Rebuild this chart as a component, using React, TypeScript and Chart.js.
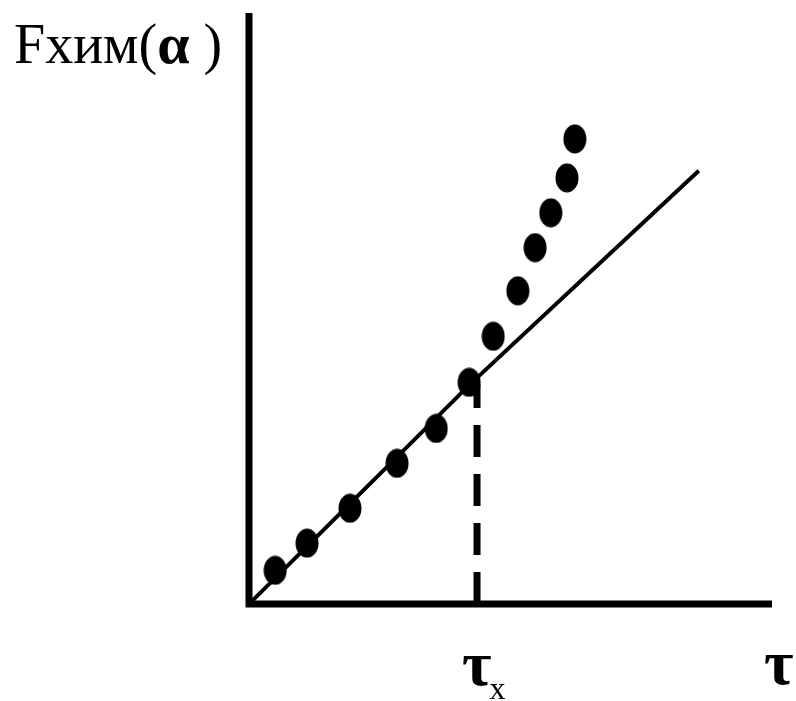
import { useEffect, useRef } from "react";
import { Chart, registerables } from "chart.js";

Chart.register(...registerables);

// Measured points: reaction time τ and kinetic function Fхим(α)
const tauValues = [0.5, 1.11, 1.93, 2.83, 3.58, 4.21, 4.67, 5.14, 5.47, 5.77, 6.08, 6.23];
const fValues = [0.57, 1.03, 1.62, 2.38, 2.97, 3.75, 4.53, 5.3, 6.03, 6.62, 7.21, 7.87];

// Linear fit drawn through the origin
const fitTau = [0, 4.23, 8.6];
const fitF = [0, 3.72, 7.33];

// Break time τx, marked by the dashed drop line
const tauX = 4.36;
const fAtTauX = 3.72;

// Axis ranges
const tauRange = [0, 10];
const fRange = [0, 10];

// Axis captions
const yCaption = ["Fхим(", "α", ")"];
const breakCaption = ["τ", "x"];
const xCaption = "τ";

const SERIF = '"Liberation Serif", "Times New Roman", "DejaVu Serif", serif';

function makeDot(): HTMLCanvasElement {
  const c = document.createElement("canvas");
  c.width = 24;
  c.height = 30;
  const g = c.getContext("2d")!;
  g.fillStyle = "#000";
  g.beginPath();
  g.ellipse(12, 15, 11.5, 14.5, 0, 0, Math.PI * 2);
  g.fill();
  return c;
}

const axesPlugin = {
  id: "axesAndCaptions",
  beforeDatasetsDraw(chart: any) {
    const { ctx, scales } = chart;
    const x = scales.x;
    const y = scales.y;
    const x0 = x.getPixelForValue(0);
    const y0 = y.getPixelForValue(0);
    ctx.save();
    ctx.strokeStyle = "#000";
    ctx.lineWidth = 7;
    ctx.lineCap = "butt";
    ctx.beginPath();
    ctx.moveTo(x0, y.getPixelForValue(fRange[1]));
    ctx.lineTo(x0, y0 + 3.5);
    ctx.moveTo(x0 - 3.5, y0);
    ctx.lineTo(x.getPixelForValue(tauRange[1]), y0);
    ctx.stroke();
    ctx.restore();
  },
  afterDraw(chart: any) {
    const { ctx, scales } = chart;
    const x = scales.x;
    const y0 = scales.y.getPixelForValue(0);
    ctx.save();
    ctx.fillStyle = "#000";
    ctx.textBaseline = "alphabetic";
    ctx.textAlign = "left";

    // Y caption
    ctx.font = `56px ${SERIF}`;
    let cx = 14;
    ctx.fillText(yCaption[0], cx, 63);
    cx += ctx.measureText(yCaption[0]).width;
    ctx.font = `bold 58px ${SERIF}`;
    ctx.fillText(yCaption[1], cx, 63);
    cx += ctx.measureText(yCaption[1]).width + 14;
    ctx.font = `56px ${SERIF}`;
    ctx.fillText(yCaption[2], cx, 63);

    // τx under the dashed line
    const kx = x.getPixelForValue(tauX);
    ctx.font = `bold 64px ${SERIF}`;
    ctx.fillText(breakCaption[0], kx - 15, y0 + 81);
    const tw = ctx.measureText(breakCaption[0]).width;
    ctx.font = `32px ${SERIF}`;
    ctx.fillText(breakCaption[1], kx - 15 + tw - 2, y0 + 95);

    // τ at the end of the horizontal axis
    ctx.font = `bold 64px ${SERIF}`;
    ctx.fillText(xCaption, x.getPixelForValue(tauRange[1]) - 8, y0 + 80);
    ctx.restore();
  },
};

export default function App() {
  const ref = useRef<HTMLCanvasElement | null>(null);

  useEffect(() => {
    if (!ref.current) return;
    const dot = makeDot();
    const chart = new Chart(ref.current, {
      type: "scatter",
      data: {
        datasets: [
          {
            label: "fit",
            type: "line",
            data: fitTau.map((t, i) => ({ x: t, y: fitF[i] })),
            borderColor: "#000",
            borderWidth: 4,
            pointRadius: 0,
            fill: false,
            tension: 0,
          } as any,
          {
            label: "tauX",
            type: "line",
            data: [
              { x: tauX, y: 0 },
              { x: tauX, y: fAtTauX },
            ],
            borderColor: "#000",
            borderWidth: 7,
            borderDash: [32, 17],
            borderCapStyle: "butt",
            pointRadius: 0,
            fill: false,
          } as any,
          {
            label: "points",
            data: tauValues.map((t, i) => ({ x: t, y: fValues[i] })),
            pointStyle: dot,
            pointRadius: 12,
            backgroundColor: "#000",
            borderColor: "#000",
            showLine: false,
          } as any,
        ],
      },
      options: {
        animation: false,
        responsive: false,
        devicePixelRatio: 1,
        layout: { padding: { left: 249, right: 24, top: 12, bottom: 97 } },
        plugins: {
          legend: { display: false },
          tooltip: { enabled: false },
        },
        scales: {
          x: { type: "linear", min: tauRange[0], max: tauRange[1], display: false },
          y: { type: "linear", min: fRange[0], max: fRange[1], display: false },
        },
      },
      plugins: [axesPlugin],
    });
    return () => chart.destroy();
  }, []);

  return (
    <div style={{ position: "fixed", left: 0, top: 0, width: 796, height: 701, background: "#fff" }}>
      <canvas ref={ref} width={796} height={701} style={{ display: "block" }} />
    </div>
  );
}
